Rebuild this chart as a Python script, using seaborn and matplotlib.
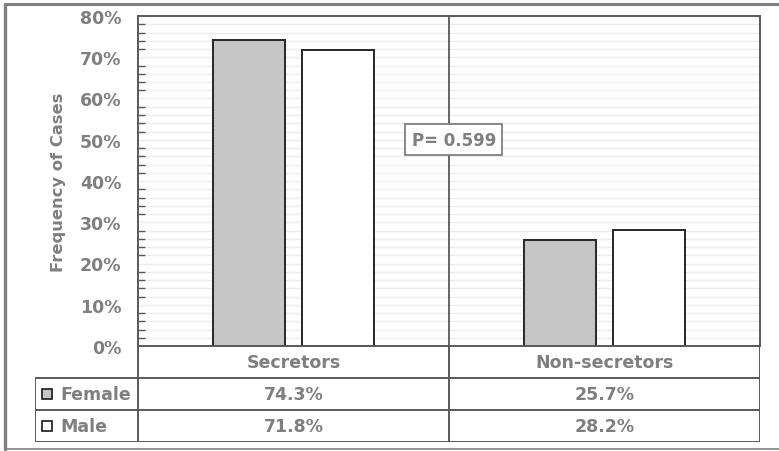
import numpy as np
import pandas as pd
import matplotlib
matplotlib.use("Agg")
import matplotlib.pyplot as plt
import seaborn as sns
from matplotlib.ticker import MultipleLocator, PercentFormatter
from matplotlib.lines import Line2D

# Data
groups = ["Secretors", "Non-secretors"]
sexes = ["Female", "Male"]
female_freq = [0.743, 0.257]
male_freq = [0.718, 0.282]
p_label = "P= 0.599"

df = pd.DataFrame({
    "Group": groups * 2,
    "Sex": ["Female"] * len(groups) + ["Male"] * len(groups),
    "Freq": female_freq + male_freq,
})

sns.set_style("white")
plt.rcParams["font.family"] = ["DejaVu Sans"]

TXT = "#7f7f7f"
LINE = "#595959"
colors = {"Female": "#c6c6c6", "Male": "white"}

W, H = 779, 452
fig = plt.figure(figsize=(W / 100, H / 100), dpi=100)

# main plot area in pixels
px_l, px_r, px_t, px_b = 138, 760, 17, 347
ax = fig.add_axes([px_l / W, 1 - px_b / H, (px_r - px_l) / W, (px_b - px_t) / H])

sns.barplot(data=df, x="Group", y="Freq", hue="Sex", order=groups, hue_order=sexes,
            palette=colors, edgecolor="#262626", linewidth=1.4,
            width=0.572, gap=0.2, legend=False, ax=ax)

ax.set_xlim(-0.5, len(groups) - 0.5)
ax.set_ylim(0, 0.8)
ax.yaxis.set_major_locator(MultipleLocator(0.1))
ax.yaxis.set_minor_locator(MultipleLocator(0.02))
ax.yaxis.set_major_formatter(PercentFormatter(1.0, decimals=0))
ax.set_axisbelow(True)
ax.grid(which="both", axis="y", color="#ececec", lw=1.0)
ax.tick_params(axis="y", which="major", direction="out", length=6, width=1.2,
               color=LINE, labelsize=12.5, labelcolor=TXT, pad=6)
ax.tick_params(axis="y", which="minor", direction="in", length=5, width=1.0,
               color=LINE, left=True)
for lab in ax.get_yticklabels():
    lab.set_fontweight("bold")
ax.set_xticks([])
ax.set_xlabel("")
ax.set_ylabel("Frequency of Cases", fontsize=11.8, fontweight="bold", color=TXT, labelpad=10)
for s in ax.spines.values():
    s.set_color(LINE)
    s.set_linewidth(1.4)

# divider between the two groups
for i in range(len(groups) - 1):
    ax.axvline(i + 0.5, color=LINE, lw=1.3, zorder=1)

ax.text(0.516, 0.50, p_label, ha="center", va="center", fontsize=12,
        fontweight="bold", color=TXT, zorder=5,
        bbox=dict(boxstyle="square,pad=0.38", fc="white", ec=TXT, lw=1.3))

# data table under the plot
tab_l, tab_b = 35, 443
units_per_px = len(groups) / (px_r - px_l)
x_left = -0.5 - (px_l - tab_l) * units_per_px
tab = fig.add_axes([tab_l / W, 1 - tab_b / H, (px_r - tab_l) / W, (tab_b - px_b) / H])
tab.set_xlim(x_left, len(groups) - 0.5)
tab.set_ylim(3, 0)
tab.axis("off")

lk = dict(color=LINE, lw=1.4, solid_capstyle="projecting")
tab.plot([x_left, len(groups) - 0.5], [1, 1], **lk)
tab.plot([x_left, len(groups) - 0.5], [2, 2], **lk)
tab.plot([x_left, len(groups) - 0.5], [3, 3], **lk)
tab.plot([x_left, x_left], [1, 3], **lk)
for i in range(len(groups) + 1):
    tab.plot([i - 0.5, i - 0.5], [0, 3], **lk)

tk = dict(fontsize=12.5, fontweight="bold", color=TXT, va="center")
for i, g in enumerate(groups):
    tab.text(i, 0.5, g, ha="center", **tk)
    tab.text(i, 1.5, f"{female_freq[i] * 100:.1f}%", ha="center", **tk)
    tab.text(i, 2.5, f"{male_freq[i] * 100:.1f}%", ha="center", **tk)

for r, sx in enumerate(sexes):
    tab.plot([x_left + 11.8 * units_per_px], [1.5 + r], marker="s", ms=7,
             mfc=colors[sx], mec="#1a1a1a", mew=1.2)
    tab.text(x_left + 25 * units_per_px, 1.5 + r, sx, ha="left", **tk)

# outer frame
fr = dict(color="#808080", transform=fig.transFigure)
fig.add_artist(Line2D([5 / W, 1.0], [1 - 4.5 / H, 1 - 4.5 / H], lw=2.2, **fr))
fig.add_artist(Line2D([5 / W, 5 / W], [1 - 4.5 / H, 1 - 450 / H], lw=2.4, **fr))
fig.add_artist(Line2D([5 / W, 1.0], [1 - 450 / H, 1 - 450 / H], lw=1.2, **fr))

fig.savefig("out.png", dpi=100)
